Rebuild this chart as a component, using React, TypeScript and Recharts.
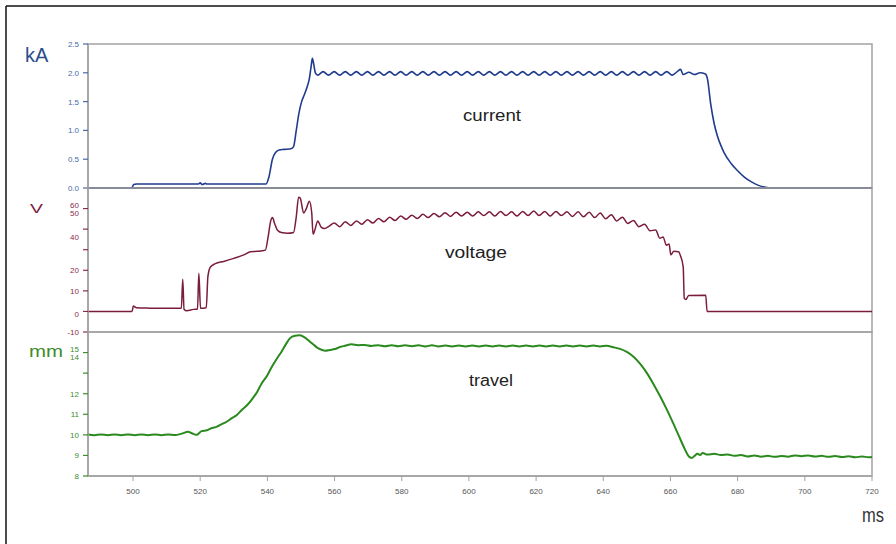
import React from 'react';
import { LineChart, Line, XAxis, YAxis, ReferenceArea, ReferenceLine } from 'recharts';

// time axis (ms)
const X_MIN = 486.6;
const X_MAX = 720;
const timeTicks = [500, 520, 540, 560, 580, 600, 620, 640, 660, 680, 700, 720];

// current, kA  [ms, kA]
const currentPoints: [number, number][] = [
  [486.6, 0], [499.6, 0], [500.2, 0.06], [501, 0.07], [510, 0.07], [519.5, 0.07], [520, 0.09], [520.6, 0.06],
  [521.5, 0.08], [522, 0.07], [530, 0.07], [539.6, 0.07],
  [540.5, 0.2], [541.5, 0.5], [542.5, 0.62], [543.5, 0.66], [545, 0.67], [547, 0.68], [547.8, 0.72],
  [548.6, 1.0], [549.4, 1.3], [550.2, 1.5], [551, 1.62], [551.8, 1.75], [552.5, 1.9], [553, 2.1],
  [553.4, 2.25], [553.8, 2.15], [554.3, 2.0], [555, 1.96],
  [556.6, 2.02], [558.2, 1.96], [559.9, 2.02], [561.5, 1.96], [563.2, 2.02], [564.8, 1.96], [566.5, 2.02],
  [568.1, 1.96], [569.8, 2.02], [571.4, 1.96], [573.1, 2.02], [574.7, 1.96], [576.4, 2.02], [578.0, 1.96],
  [579.7, 2.02], [581.3, 1.96], [583.0, 2.02], [584.6, 1.96], [586.3, 2.02], [587.9, 1.96], [589.6, 2.02],
  [591.2, 1.96], [592.9, 2.02], [594.5, 1.96], [596.2, 2.02], [597.8, 1.96], [599.5, 2.02], [601.1, 1.96],
  [602.8, 2.02], [604.4, 1.96], [606.1, 2.02], [607.7, 1.96], [609.4, 2.02], [611.0, 1.96], [612.7, 2.02],
  [614.3, 1.96], [616.0, 2.02], [617.6, 1.96], [619.3, 2.02], [620.9, 1.96], [622.6, 2.02], [624.2, 1.96],
  [625.9, 2.02], [627.5, 1.96], [629.2, 2.02], [630.8, 1.96], [632.5, 2.02], [634.1, 1.96], [635.8, 2.02],
  [637.4, 1.96], [639.1, 2.02], [640.7, 1.96], [642.4, 2.02], [644.0, 1.96], [645.7, 2.02], [647.3, 1.96],
  [649.0, 2.02], [650.6, 1.96], [652.3, 2.02], [653.9, 1.96], [655.6, 2.02], [657.2, 1.96], [658.9, 2.02],
  [660.5, 1.96], [662.2, 2.03], [663.0, 2.06], [663.8, 1.97], [665.5, 2.01], [667.1, 1.97], [668.8, 2.0],
  [670.4, 1.98],
  [671.0, 1.9], [672, 1.45], [673, 1.12], [674, 0.9], [675, 0.74], [676, 0.61], [678, 0.43], [680, 0.3],
  [682, 0.19], [684, 0.11], [686, 0.05], [688, 0.015], [690, 0], [720, 0],
];

// voltage, V  [ms, V]
const voltagePoints: [number, number][] = [
  [486.6, 0], [499.7, 0], [500.1, 2.6], [501, 1.8], [505, 1.6], [510, 1.5], [514.4, 1.6], [514.8, 15.6],
  [515.2, 1.0], [516, 0.3], [518, 1.0], [519.2, 1.2], [519.6, 18.5], [520.1, 1.5], [521.8, 1.8],
  [522.3, 17], [523, 21.5], [524.5, 23.2], [527, 24.3], [530, 25.8], [533, 27.5], [535, 29], [537, 29.2],
  [539.4, 29.8], [540.2, 36], [541, 44], [541.5, 45.6], [542.2, 42.5], [543, 39.5], [544.5, 38.2],
  [546, 38], [547.8, 38.4], [548.6, 46], [549.3, 55.5], [549.8, 55], [550.8, 47.8], [551.6, 50],
  [552.5, 53.6], [553.2, 48], [553.6, 37.5], [554.2, 40], [555, 44], [556, 41], [557, 40.3], [558.5, 41.6],
  [559.9, 43.0], [561.5, 41.2], [563.2, 43.6], [564.8, 41.8], [566.5, 44.0], [568.1, 42.4], [569.8, 44.6],
  [571.4, 43.0], [573.1, 45.2], [574.7, 43.6], [576.4, 45.8], [578.0, 44.2], [579.7, 46.4], [581.3, 44.8],
  [583.0, 46.8], [584.6, 45.2], [586.3, 47.2], [587.9, 45.6], [589.6, 47.6], [591.2, 46.0], [592.9, 48.0],
  [594.5, 46.2], [596.2, 48.2], [597.8, 46.4], [599.5, 48.2], [601.1, 46.4], [602.8, 48.4], [604.4, 46.6],
  [606.1, 48.4], [607.7, 46.4], [609.4, 48.6], [611.0, 46.6], [612.7, 48.4], [614.3, 46.4], [616.0, 48.6],
  [617.6, 46.6], [619.3, 48.8], [620.9, 46.6], [622.6, 48.6], [624.2, 46.4], [625.9, 48.6], [627.5, 46.6],
  [629.2, 48.4], [630.8, 46.2], [632.5, 48.4], [634.1, 46.0], [635.8, 48.2], [637.4, 45.6], [639.1, 47.8],
  [640.7, 45.0], [642.4, 47.0], [644.0, 44.0], [645.7, 45.8], [647.3, 42.8], [649.0, 44.2], [650.6, 41.2],
  [652.3, 42.4], [653.9, 39.2], [655.6, 39.6], [656.8, 35.6], [657.8, 36.2], [658.8, 32.2], [659.6, 32.8],
  [660.1, 27.5], [661.0, 29.2], [662.4, 29.0], [663.0, 27.0], [663.8, 21.5], [664.1, 6.5], [664.6, 5.8],
  [665.4, 7.8], [670.5, 7.9], [670.9, 0], [720, 0],
];

// travel, mm  [ms, mm]
const travelPoints: [number, number][] = [
  [486.6, 10.02], [488.5, 9.98], [490.5, 10.02], [492.5, 9.98], [494.5, 10.02], [496.5, 9.98], [498.5, 10.02],
  [500.5, 9.98], [502.5, 10.02], [504.5, 9.98], [506.5, 10.02], [508.5, 9.98], [510.5, 10.02], [512.5, 9.99],
  [514.5, 10.06], [516.4, 10.15], [517.5, 10.08], [518.9, 10.0], [520.4, 10.18], [522, 10.22], [523.3, 10.32],
  [525, 10.4], [526.3, 10.51], [528, 10.65], [529.3, 10.8], [531, 10.98], [532.3, 11.2], [534, 11.45],
  [535.3, 11.7], [537, 12.1], [538.3, 12.5], [540, 12.9], [541.3, 13.3], [543, 13.75], [544.2, 14.04],
  [545.5, 14.4], [546.7, 14.69], [548.2, 14.82], [549.5, 14.84], [550.7, 14.78], [551.8, 14.65],
  [552.7, 14.53], [554, 14.35], [555.2, 14.2], [557.2, 14.09], [558.6, 14.13], [560.1, 14.17], [561.6, 14.27],
  [563.1, 14.33], [565, 14.4], [567, 14.36], [569, 14.37], [571, 14.32], [573, 14.36], [575, 14.31],
  [577, 14.36], [579, 14.31], [581, 14.35], [583, 14.31], [585, 14.35], [587, 14.30], [589, 14.35],
  [591, 14.30], [593, 14.34], [595, 14.30], [597, 14.34], [599, 14.30], [601, 14.34], [603, 14.30],
  [605, 14.34], [607, 14.30], [609, 14.34], [611, 14.30], [613, 14.34], [615, 14.30], [617, 14.34],
  [619, 14.30], [621, 14.34], [623, 14.30], [625, 14.34], [627, 14.30], [629, 14.34], [631, 14.30],
  [633, 14.34], [635, 14.30], [637, 14.34], [639, 14.30], [641, 14.33], [643, 14.26], [645, 14.18],
  [647, 14.03], [649, 13.8], [651, 13.45], [653, 13.0], [655, 12.45], [657, 11.85], [659, 11.2], [661, 10.5],
  [662.5, 9.95], [664, 9.4], [665.5, 8.95], [666.3, 8.88], [667.2, 8.98], [668, 9.08], [668.8, 9.02], [669.6, 9.12],
  [671, 9.04], [673, 9.08], [675, 9.02], [677, 9.05], [679, 8.98], [681, 9.02], [683, 8.95], [685, 9.0],
  [687, 8.94], [689, 8.98], [691, 8.93], [693, 8.97], [695, 8.94], [697, 9.0], [699, 8.96], [701, 9.0],
  [703, 8.95], [705, 8.98], [707, 8.93], [709, 8.97], [711, 8.92], [713, 8.96], [715, 8.91], [717, 8.95],
  [719, 8.91], [720, 8.93],
];

// y axes
const currentDomain = [0, 2.5];
const currentTicks = [0, 0.5, 1, 1.5, 2, 2.5];
const currentTickLabels = ['0.0', '0.5', '1.0', '1.5', '2.0', '2.5'];

const voltageDomain = [-10, 60];
const voltageTicks = [-10, 0, 10, 20, 30, 40, 50];
const voltageTickLabels = ['-10', '0', '10', '20', '', '40', '60|50'];

const travelDomain = [8, 15];
const travelTicks = [8, 9, 10, 11, 12, 13, 14];
const travelTickLabels = ['8', '9', '10', '11', '12', '', '15|14'];

const FONT = '"Liberation Sans", Arial, sans-serif';
const FRAME = '#a2a2a2';

const toRows = (pts: [number, number][]) => pts.map(([t, v]) => ({ t, v }));

const renderTick = (props: any, values: number[], labels: string[], color: string) => {
  const { x, y, payload } = props;
  const idx = values.indexOf(payload.value);
  const text = idx >= 0 ? labels[idx] : '';
  if (!text) return <g />;
  const parts = text.split('|');
  if (parts.length === 2) {
    return (
      <text x={x} y={y} textAnchor="end" fontSize={8} fill={color} fontFamily={FONT}>
        <tspan x={x} dy={-1}>{parts[0]}</tspan>
        <tspan x={x} dy={8}>{parts[1]}</tspan>
      </text>
    );
  }
  // the 40 and 0 labels sit a little below their tick marks in the original
  const drop = payload.value === 40 && labels === voltageTickLabels ? 8 : payload.value === 0 && labels === voltageTickLabels ? 3 : 0;
  return (
    <text x={x} y={y + drop} dy={3} textAnchor="end" fontSize={8} fill={color} fontFamily={FONT}>
      {text}
    </text>
  );
};

interface PanelProps {
  points: [number, number][];
  color: string;
  strokeWidth: number;
  domain: number[];
  ticks: number[];
  tickLabels: string[];
  tickColor: string;
  top: number;
  bottom: number;
  showX?: boolean;
  zeroLine?: boolean;
}

const Panel = ({ points, color, strokeWidth, domain, ticks, tickLabels, tickColor, top, bottom, showX, zeroLine }: PanelProps) => (
  <div style={{ position: 'absolute', left: 0, top: 0 }}>
    <LineChart width={896} height={544} data={toRows(points)} margin={{ top, right: 24, bottom, left: 0 }}>
      <XAxis
        type="number"
        dataKey="t"
        domain={[X_MIN, X_MAX]}
        allowDataOverflow
        ticks={timeTicks}
        interval={0}
        hide={!showX}
        height={30}
        tickSize={5}
        tickMargin={7}
        axisLine={{ stroke: FRAME, strokeWidth: 1.5 }}
        tickLine={{ stroke: FRAME }}
        tick={{ fontSize: 8, fill: '#555', fontFamily: FONT }}
      />
      <YAxis
        type="number"
        domain={domain}
        allowDataOverflow
        ticks={ticks}
        interval={0}
        width={88}
        tickSize={5}
        tickMargin={4}
        axisLine={{ stroke: FRAME, strokeWidth: 1.5 }}
        tickLine={{ stroke: tickColor, strokeWidth: 1.2 }}
        tick={(p: any) => renderTick(p, ticks, tickLabels, tickColor)}
      />
      <ReferenceArea
        x1={X_MIN}
        x2={X_MAX}
        y1={domain[0]}
        y2={domain[1]}
        fill="none"
        stroke={FRAME}
        strokeWidth={1.5}
      />
      {zeroLine && <ReferenceLine y={0} stroke="#1c2a55" strokeWidth={1.5} />}
      <Line
        type="monotone"
        dataKey="v"
        stroke={color}
        strokeWidth={strokeWidth}
        dot={false}
        isAnimationActive={false}
      />
    </LineChart>
  </div>
);

export default function App() {
  return (
    <div style={{ position: 'absolute', left: 0, top: 0, width: 896, height: 544, background: '#fff', fontFamily: FONT }}>
      <Panel
        points={currentPoints}
        color="#1f3c8e"
        strokeWidth={1.6}
        domain={currentDomain}
        ticks={currentTicks}
        tickLabels={currentTickLabels}
        tickColor="#4a6aa8"
        top={44}
        bottom={356}
        zeroLine
      />
      <Panel
        points={voltagePoints}
        color="#7a1c3c"
        strokeWidth={1.5}
        domain={voltageDomain}
        ticks={voltageTicks}
        tickLabels={voltageTickLabels}
        tickColor="#8c2c4c"
        top={188}
        bottom={212}
      />
      <Panel
        points={travelPoints}
        color="#2a8a1e"
        strokeWidth={2}
        domain={travelDomain}
        ticks={travelTicks}
        tickLabels={travelTickLabels}
        tickColor="#3c8c2c"
        top={332}
        bottom={38}
        showX
      />
      <svg width={896} height={544} style={{ position: 'absolute', left: 0, top: 0, pointerEvents: 'none' }}>
        <line x1={6} y1={6} x2={896} y2={6} stroke="#111" strokeWidth={1.5} />
        <line x1={6} y1={6} x2={6} y2={544} stroke="#111" strokeWidth={1.5} />
        <text x={25} y={62} fontSize={20} fill="#2b4c8c" fontFamily={FONT}>kA</text>
        <text x={30} y={213} fontSize={13} fill="#7a2040" fontFamily={FONT} textLength={13} lengthAdjust="spacingAndGlyphs">V</text>
        <text x={29} y={357} fontSize={16} fill="#3c8c2c" fontFamily={FONT} textLength={34} lengthAdjust="spacingAndGlyphs">mm</text>
        <text x={862} y={522} fontSize={20} fill="#333" fontFamily={FONT} textLength={22} lengthAdjust="spacingAndGlyphs">ms</text>
        <text x={463} y={121} fontSize={16} fill="#222" fontFamily={FONT} textLength={58} lengthAdjust="spacingAndGlyphs">current</text>
        <text x={445} y={258} fontSize={16} fill="#222" fontFamily={FONT} textLength={62} lengthAdjust="spacingAndGlyphs">voltage</text>
        <text x={469} y={386} fontSize={16} fill="#222" fontFamily={FONT} textLength={44} lengthAdjust="spacingAndGlyphs">travel</text>
      </svg>
    </div>
  );
}
